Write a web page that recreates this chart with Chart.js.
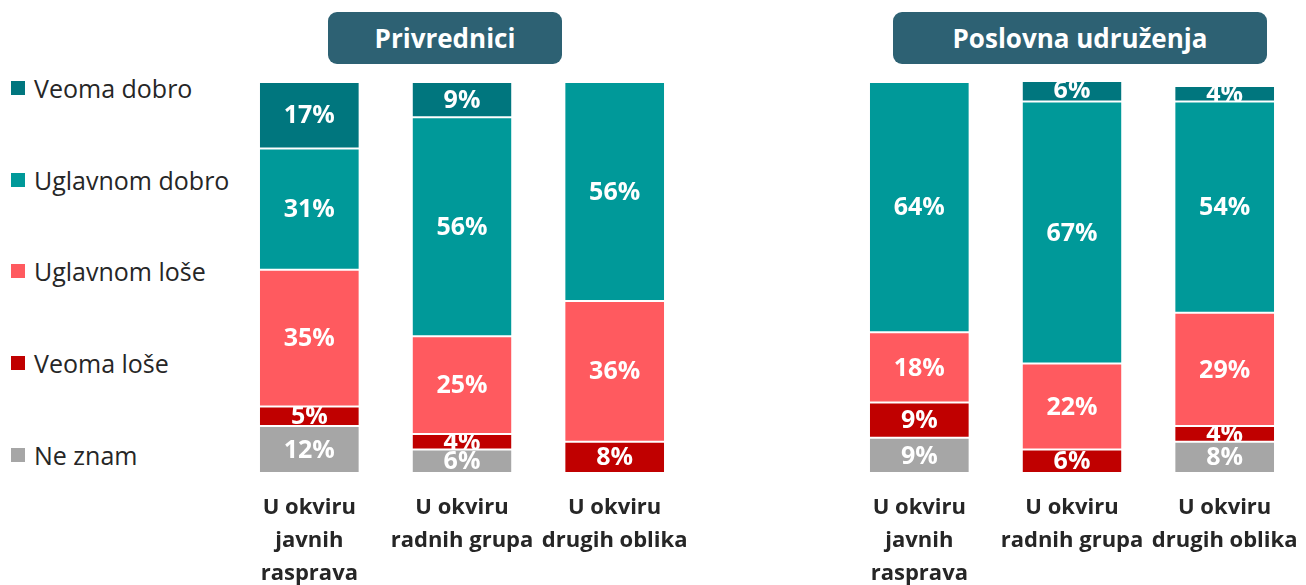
<!DOCTYPE html>
<html>
<head>
<meta charset="utf-8">
<script src="https://cdn.jsdelivr.net/npm/chart.js@4"></script>
<style>
  html, body { margin: 0; padding: 0; background: #fff; }
  body { width: 1306px; height: 585px; position: relative; overflow: hidden; font-family: "Open Sans", sans-serif; }
  .panel-title { position: absolute; top: 12px; height: 52px; background: #2D6173; border-radius: 9px;
    color: #fff; font-weight: 700; font-size: 26px; display: flex; align-items: center; justify-content: center; }
  .legend { position: absolute; left: 11px; top: 0; }
  .legend-item { position: absolute; left: 0; display: flex; align-items: center; white-space: nowrap;
    font-size: 25px; color: #262626; }
  .legend-item span.sw { display: inline-block; width: 14px; height: 14px; margin-right: 9px; }
  .chart-box { position: absolute; top: 82px; width: 458px; height: 503px; }
</style>
</head>
<body>
<div class="panel-title" style="left:328px; width:234px;">Privrednici</div>
<div class="panel-title" style="left:893px; width:374px;">Poslovna udruženja</div>
<div class="legend" id="legend"></div>
<div class="chart-box" style="left:233px;"><canvas id="c1"></canvas></div>
<div class="chart-box" style="left:843px;"><canvas id="c2"></canvas></div>
<script>
// Categories (multi-line tick labels)
const categories = [
  ['U okviru', 'javnih', 'rasprava'],
  ['U okviru', 'radnih grupa'],
  ['U okviru', 'drugih oblika']
];

// Series names, top of the stack first
const seriesNames = ['Veoma dobro', 'Uglavnom dobro', 'Uglavnom loše', 'Veoma loše', 'Ne znam'];
const seriesColors = ['#00767E', '#009999', '#FF5A5F', '#C00000', '#A6A6A6'];

// Privrednici (%)
const privVeomaDobro    = [17, 9, null];
const privUglavnomDobro = [31, 56, 56];
const privUglavnomLose  = [35, 25, 36];
const privVeomaLose     = [5, 4, 8];
const privNeZnam        = [12, 6, null];

// Poslovna udruženja (%)
const udrVeomaDobro    = [null, 6, 4];
const udrUglavnomDobro = [64, 67, 54];
const udrUglavnomLose  = [18, 22, 29];
const udrVeomaLose     = [9, 6, 4];
const udrNeZnam        = [9, null, 8];

const FONT = '"Open Sans", sans-serif';

// Legend
const legend = document.getElementById('legend');
const legendY = [88, 180, 271, 363, 455];
seriesNames.forEach((name, i) => {
  const item = document.createElement('div');
  item.className = 'legend-item';
  item.style.top = (legendY[i] - 16) + 'px';
  item.style.height = '32px';
  item.innerHTML = '<span class="sw" style="background:' + seriesColors[i] + '"></span>' + name;
  legend.appendChild(item);
});

// Value labels centred in each segment, clipped to the segment
const segmentLabels = {
  id: 'segmentLabels',
  afterDatasetsDraw(chart) {
    const ctx = chart.ctx;
    const area = chart.chartArea;
    chart.data.datasets.forEach((ds, di) => {
      const meta = chart.getDatasetMeta(di);
      meta.data.forEach((bar, i) => {
        const v = ds.data[i];
        if (v == null || v === 0) return;
        const p = bar.getProps(['x', 'y', 'base', 'width'], true);
        const top = Math.max(Math.min(p.y, p.base), area.top);
        const bottom = Math.min(Math.max(p.y, p.base), area.bottom);
        ctx.save();
        ctx.beginPath();
        ctx.rect(p.x - p.width / 2, top, p.width, bottom - top);
        ctx.clip();
        ctx.fillStyle = '#ffffff';
        ctx.font = 'bold 25px ' + FONT;
        ctx.textAlign = 'center';
        ctx.textBaseline = 'middle';
        ctx.fillText(v + '%', p.x, (Math.min(p.y, p.base) + Math.max(p.y, p.base)) / 2 + 1);
        ctx.restore();
      });
    });
  }
};

function buildDatasets(vd, ud, ul, vl, nz) {
  // stacked from the bottom up
  const rows = [nz, vl, ul, ud, vd];
  const names = seriesNames.slice().reverse();
  const colors = seriesColors.slice().reverse();
  return rows.map((data, i) => ({
    label: names[i],
    data: data,
    backgroundColor: colors[i],
    borderColor: '#ffffff',
    borderWidth: { top: 1, bottom: 1, left: 0, right: 0 },
    borderSkipped: false,
    barPercentage: 0.648,
    categoryPercentage: 1
  }));
}

function makeChart(id, datasets) {
  return new Chart(document.getElementById(id), {
    type: 'bar',
    data: { labels: categories, datasets: datasets },
    options: {
      responsive: true,
      maintainAspectRatio: false,
      animation: false,
      layout: { padding: 0 },
      plugins: { legend: { display: false }, tooltip: { enabled: false } },
      scales: {
        x: {
          stacked: true,
          grid: { display: false, drawTicks: false },
          border: { display: false },
          ticks: {
            color: '#262626',
            font: { family: FONT, weight: 'bold', size: 22, lineHeight: 1.5 },
            padding: 18,
            maxRotation: 0,
            autoSkip: false
          },
          afterFit(scale) {
            scale.height = 112;
            scale.paddingLeft = 0;
            scale.paddingRight = 0;
          }
        },
        y: { stacked: true, display: false, min: 0, max: 100 }
      }
    },
    plugins: [segmentLabels]
  });
}

makeChart('c1', buildDatasets(privVeomaDobro, privUglavnomDobro, privUglavnomLose, privVeomaLose, privNeZnam));
makeChart('c2', buildDatasets(udrVeomaDobro, udrUglavnomDobro, udrUglavnomLose, udrVeomaLose, udrNeZnam));
</script>
</body>
</html>
